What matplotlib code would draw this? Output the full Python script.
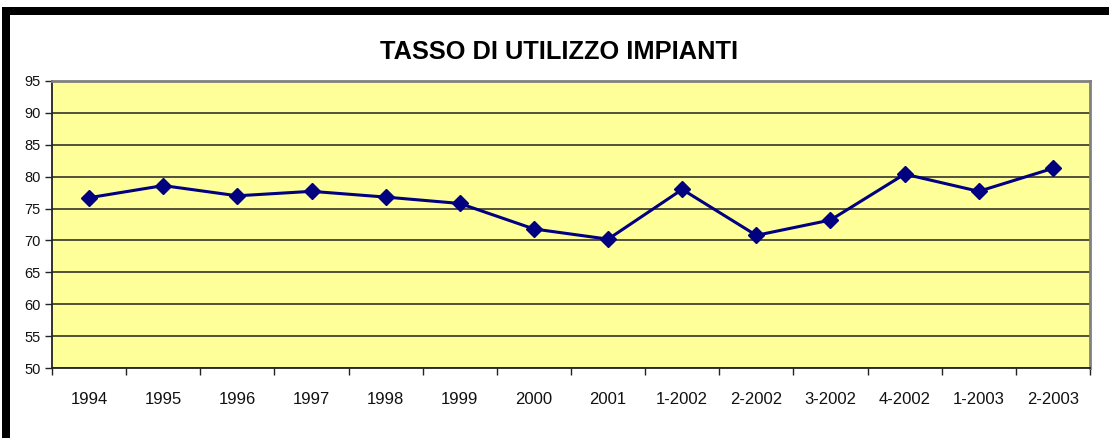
import matplotlib
matplotlib.use("Agg")
import matplotlib.pyplot as plt
from matplotlib.patches import Rectangle
from matplotlib.ticker import FixedLocator, NullFormatter

categories = ["1994", "1995", "1996", "1997", "1998", "1999", "2000", "2001",
              "1-2002", "2-2002", "3-2002", "4-2002", "1-2003", "2-2003"]
values = [76.7, 78.6, 77.0, 77.7, 76.8, 75.8, 71.8, 70.2,
          78.0, 70.8, 73.2, 80.4, 77.7, 81.3]
y_ticks = [50, 55, 60, 65, 70, 75, 80, 85, 90, 95]
title = "TASSO DI UTILIZZO IMPIANTI"

plt.rcParams['font.family'] = ['Liberation Sans', 'DejaVu Sans']

W, H = 1109, 438
fig = plt.figure(figsize=(W / 100, H / 100), dpi=100)
fig.patch.set_facecolor('white')

# black frame (top and left)
fig.patches.append(Rectangle((2 / W, 1 - 15 / H), 1 - 2 / W, 8 / H,
                             transform=fig.transFigure, facecolor='black',
                             edgecolor='none', zorder=0))
fig.patches.append(Rectangle((2 / W, 0), 8 / W, 1 - 7 / H,
                             transform=fig.transFigure, facecolor='black',
                             edgecolor='none', zorder=0))

left, right, top, bottom = 52, 1090, 81, 368
ax = fig.add_axes([left / W, 1 - bottom / H, (right - left) / W, (bottom - top) / H])
ax.set_facecolor('#FFFF99')

x = list(range(len(categories)))
ax.plot(x, values, color='#000080', linewidth=2.2, marker='D',
        markersize=8.5, markerfacecolor='#000080', markeredgecolor='#000080',
        zorder=3, clip_on=False)

ax.set_xlim(-0.5, len(categories) - 0.5)
ax.set_ylim(50, 95)
ax.set_yticks(y_ticks)
ax.set_yticklabels([str(v) for v in y_ticks], fontsize=10.5, color='#111111')

# x ticks at category boundaries, labels at centers
ax.xaxis.set_major_locator(FixedLocator([i - 0.5 for i in range(len(categories) + 1)]))
ax.xaxis.set_major_formatter(NullFormatter())
ax.xaxis.set_minor_locator(FixedLocator(x))
ax.set_xticklabels(categories, minor=True, fontsize=12, color='#111111')
ax.tick_params(axis='x', which='minor', length=0, pad=17)
ax.tick_params(axis='x', which='major', length=5, width=1, color='#222222', direction='out')
ax.tick_params(axis='y', length=5, width=1, color='#222222', direction='out', pad=3)

ax.yaxis.grid(True, color='#222222', linewidth=1.1)
ax.set_axisbelow(True)

for s in ['left', 'bottom']:
    ax.spines[s].set_color('#222222')
    ax.spines[s].set_linewidth(1.3)
for s in ['top', 'right']:
    ax.spines[s].set_color('#808080')
    ax.spines[s].set_linewidth(2.0)

fig.text(559 / W, 1 - 52 / H, title, ha='center', va='center',
         fontsize=18.3, fontweight='bold', color='black')

fig.savefig('out.png', dpi=100)
